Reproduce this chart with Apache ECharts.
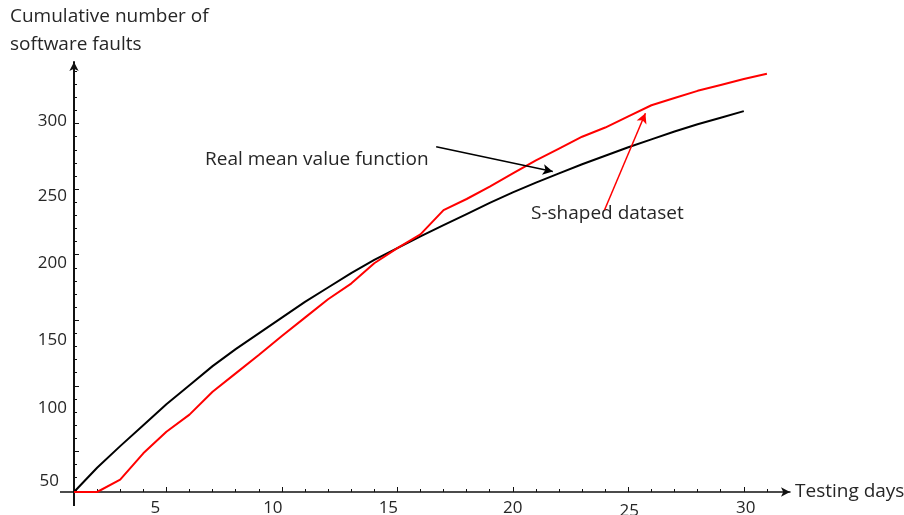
<!DOCTYPE html>
<html>
<head>
<meta charset="utf-8">
<script src="https://cdn.jsdelivr.net/npm/echarts@6/dist/echarts.min.js"></script>
<style>html,body{margin:0;padding:0;background:#fff}#c{width:904px;height:515px}</style>
</head>
<body>
<div id="c"></div>
<script>
// ---- data ----
const blackDays = [1,2,3,4,5,6,7,8,9,10,11,12,13,14,15,16,17,18,19,20,21,22,23,24,25,26,27,28,29,30];
const blackValues = [19,37.5,54,70,86,100.5,115,128,140,152,164,175,186,196,205,214,222.5,231,239.5,247.5,255,262,269,275.5,282,288,294,299.5,304.5,309.5];
const redDays = [1,2,3,4,5,6,7,8,9,10,11,12,13,14,15,16,17,18,19,20,21,22,23,24,25,26,27,28,29,30,31];
const redValues = [19,19,28.5,48.5,65,78,95.5,109.5,123.5,138,152,166,178,193.5,205,215.5,234,242.5,252,262,272,281,290,297,305.5,314,319.5,325,329.5,334,338];
const xTickLabels = [5,10,15,20,25,30];
const xMinorTicks = [1,2,3,4,5,6,7,8,9,10,11,12,13,14,15,16,17,18,19,20,21,22,23,24,25,26,27,28,29,30,31];
const yTickLabels = [50,100,150,200,250,300];
const yMinorTicks = [20,30,40,50,60,70,80,90,100,110,120,130,140,150,160,170,180,190,200,210,220,230,240,250,260,270,280,290,300,310,320,330,340];
const titleText = 'Cumulative number of\nsoftware faults';
const xName = 'Testing days';
const noteBlack = 'Real mean value function';
const noteRed = 'S-shaped dataset';
const arrowBlack = [[16.68, 282.4], [21.73, 263.4]];
const arrowRed = [[23.97, 234.1], [25.74, 307.9]];

const FONT = '"Open Sans"';
const TXT = '#262626';
const FS = 17;   // tick labels
const FW = 19;   // words

// per-label nudges (hand-placed labels in the original)
const xRich = {
  x5: {padding: [0, 22, 0, 0]},
  x10: {padding: [0, 18, 0, 0]},
  x15: {padding: [0, 18, 0, 0]},
  x20: {padding: [0, 0, 0, 0]},
  x25: {padding: [3, 0, 0, 2]},
  x30: {padding: [0, 0, 0, 4]}
};
const yRich = {
  y50: {padding: [59, 8, 0, 0]},
  y100: {padding: [45, 0, 0, 0]},
  y150: {padding: [39, 0, 0, 0]},
  y200: {padding: [17, 0, 0, 0]},
  y250: {padding: [13, 0, 0, 0]},
  y300: {padding: [0, 0, 4, 0]}
};
Object.values(xRich).forEach(s => { s.fontSize = FS; s.fontFamily = FONT; s.color = TXT; });
Object.values(yRich).forEach(s => { s.fontSize = FS; s.fontFamily = FONT; s.color = TXT; });

const grid = {left: 74, right: 114, top: 62, bottom: 23, outerBoundsMode: 'none', containLabel: false};

const chart = echarts.init(document.getElementById('c'), null, {renderer: 'canvas'});
chart.setOption({
  backgroundColor: '#fff',
  animation: false,
  title: {
    text: titleText, left: 5, top: -2,
    textStyle: {fontFamily: FONT, fontSize: FW, fontWeight: 'normal', color: TXT, lineHeight: 28}
  },
  grid: grid,
  xAxis: [{
    type: 'value', min: 1, max: 32, position: 'bottom',
    splitLine: {show: false},
    axisLine: {show: true, onZero: false, symbol: ['none', 'arrow'], symbolSize: [7, 9], lineStyle: {color: '#111', width: 1.5}},
    axisTick: {show: true, inside: true, length: 5, customValues: xTickLabels, lineStyle: {color: '#111'}},
    axisLabel: {show: true, customValues: xTickLabels, margin: 8,
      formatter: v => '{x' + v + '|' + v + '}', rich: xRich},
    name: xName, nameLocation: 'end', nameGap: 5,
    nameTextStyle: {fontFamily: FONT, fontSize: FW, color: TXT, verticalAlign: 'middle', padding: [4, 0, 0, 0]}
  }, {
    type: 'value', min: 1, max: 32, position: 'bottom', gridIndex: 0,
    splitLine: {show: false},
    axisLine: {show: false, onZero: false},
    axisTick: {show: true, inside: true, length: 3, customValues: xMinorTicks, lineStyle: {color: '#111'}},
    axisLabel: {show: false}
  }],
  yAxis: [{
    type: 'value', min: 19, max: 347, position: 'left',
    splitLine: {show: false},
    axisLine: {show: true, onZero: false, symbol: ['none', 'arrow'], symbolSize: [7, 9], lineStyle: {color: '#111', width: 2}},
    axisTick: {show: true, inside: true, length: 5, customValues: yTickLabels, lineStyle: {color: '#111'}},
    axisLabel: {show: true, customValues: yTickLabels, margin: 7,
      formatter: v => '{y' + v + '|' + v + '}', rich: yRich}
  }, {
    type: 'value', min: 19, max: 347, position: 'left',
    splitLine: {show: false},
    axisLine: {show: false, onZero: false},
    axisTick: {show: true, inside: true, length: 3, customValues: yMinorTicks, lineStyle: {color: '#111'}},
    axisLabel: {show: false}
  }],
  series: [{
    name: 'Real mean value function',
    type: 'line', xAxisIndex: 0, yAxisIndex: 0,
    data: blackDays.map((d, i) => [d, blackValues[i]]),
    showSymbol: false, smooth: false, z: 3,
    lineStyle: {color: '#000', width: 2},
    markLine: {
      silent: true, symbol: ['none', 'arrow'], symbolSize: [8, 10],
      label: {show: false},
      lineStyle: {color: '#000', width: 1.5, type: 'solid'},
      data: [[{coord: arrowBlack[0]}, {coord: arrowBlack[1]}]]
    }
  }, {
    name: 'S-shaped dataset',
    type: 'line', xAxisIndex: 0, yAxisIndex: 0,
    data: redDays.map((d, i) => [d, redValues[i]]),
    showSymbol: false, smooth: false, z: 4,
    lineStyle: {color: '#ff0000', width: 2},
    markLine: {
      silent: true, symbol: ['none', 'arrow'], symbolSize: [8, 10],
      label: {show: false},
      lineStyle: {color: '#ff0000', width: 1.5, type: 'solid'},
      data: [[{coord: arrowRed[0]}, {coord: arrowRed[1]}]]
    }
  }],
  graphic: [{
    type: 'text', left: 205, top: 150,
    style: {text: noteBlack, font: FW + 'px ' + FONT, fill: TXT}
  }, {
    type: 'text', left: 531, top: 204,
    style: {text: noteRed, font: FW + 'px ' + FONT, fill: TXT}
  }, {
    type: 'line', shape: {x1: 60, y1: 492, x2: 75, y2: 492}, style: {stroke: '#111', lineWidth: 1.5}
  }, {
    type: 'line', shape: {x1: 74, y1: 492, x2: 74, y2: 506}, style: {stroke: '#111', lineWidth: 2}
  }]
});
</script>
</body>
</html>
